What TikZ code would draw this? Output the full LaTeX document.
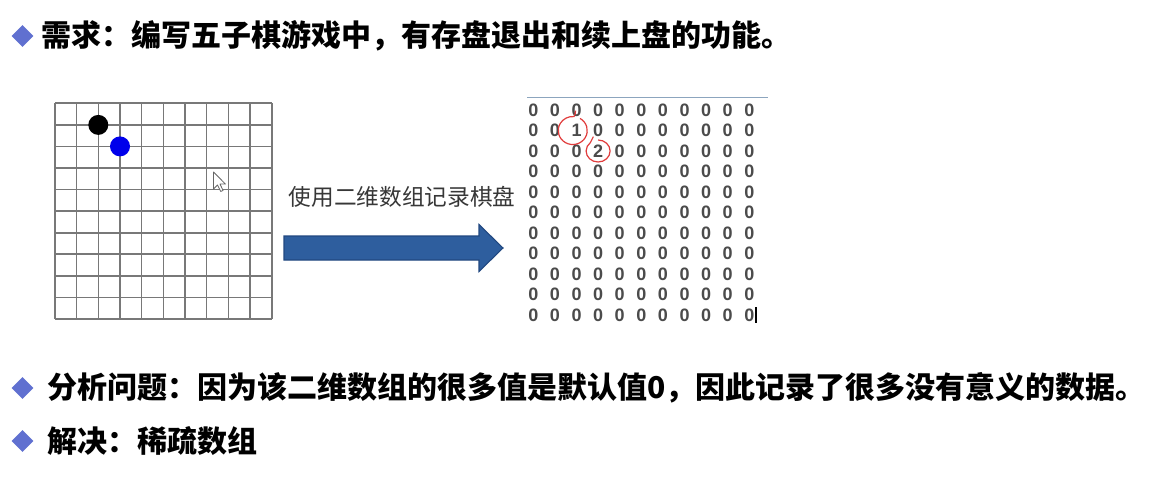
\documentclass[tikz,border=0pt]{standalone}
\usepackage{fontspec}
\setmainfont{Liberation Sans}
\newfontfamily\cjk{Noto Sans CJK SC}
\usetikzlibrary{shapes.geometric}
\definecolor{bulletcol}{RGB}{96,112,208}
\definecolor{gridgray}{RGB}{120,120,120}
\definecolor{arrowblue}{RGB}{46,94,158}
\definecolor{arrowedge}{RGB}{33,72,128}
\definecolor{digitcol}{RGB}{75,75,75}
\definecolor{rulecol}{RGB}{140,165,190}
\definecolor{markred}{RGB}{225,60,60}
\definecolor{stoneblue}{RGB}{0,0,235}
\definecolor{labelgray}{RGB}{55,55,55}
\begin{document}
\begin{tikzpicture}[x=0.75pt,y=-0.75pt,
  bul/.style={diamond, fill=bulletcol, inner sep=0pt, minimum size=16.5pt},
  headtext/.style={anchor=west, inner sep=0pt, text=black, font=\cjk\bfseries\fontsize{22.5pt}{27pt}\selectfont},
  gridline/.style={draw=gridgray, line width=1.2pt},
  stone/.style={circle, inner sep=0pt, minimum size=15pt},
  dig/.style={inner sep=0pt, text=digitcol, font=\bfseries\fontsize{13.5pt}{16pt}\selectfont},
  redmark/.style={draw=markred, line width=0.9pt},
  bigarrow/.style={fill=arrowblue, draw=arrowedge, line width=0.8pt},
  arrowlabel/.style={inner sep=0pt, text=labelgray, font=\cjk\fontsize{17pt}{20pt}\selectfont}]
\useasboundingbox[fill=white] (0,0) rectangle (1160,481);

% header and bullets
\node[bul] (b1) at (22.5,36) {};
\node[headtext] (t1) at (41,36) {需求：编写五子棋游戏中，有存盘退出和续上盘的功能。};
\node[bul] (b2) at (22.5,388) {};
\node[headtext] (t2) at (47,388) {分析问题：因为该二维数组的很多值是默认值0，因此记录了很多没有意义的数据。};
\node[bul] (b3) at (22.5,441) {};
\node[headtext] (t3) at (47,441) {解决：稀疏数组};

% board grid
\foreach \i in {0,...,10}{
  \draw[gridline] ({55+\i*21.67},103.3) -- ({55+\i*21.67},319);
  \draw[gridline] (55,{103.3+\i*21.57}) -- (271.7,{103.3+\i*21.57});
}
\node[stone, fill=black] (blackstone) at (98.3,124.9) {};
\node[stone, fill=stoneblue] (bluestone) at (120,146.4) {};

% mouse pointer
\draw[fill=white, draw=gray!80!black, line width=0.6pt, line join=round]
  (213.5,172) -- ++(0,17) -- ++(4,-4) -- ++(3.2,6.5) -- ++(2.4,-1.1) -- ++(-3.1,-6.3) -- ++(5.5,0) -- cycle;

% arrow with label
\node[arrowlabel] (lbl) at (402,197) {使用二维数组记录棋盘};
\draw[bigarrow] (284,236) -- (479,236) -- (479,224.5) -- (503,248) -- (479,271.5) -- (479,260) -- (284,260) -- cycle;

% matrix
\draw[rulecol, line width=1.3pt] (527,97.5) -- (768,97.5);
\foreach \r in {0,...,10}{
  \foreach \c in {0,...,10}{
    \pgfmathtruncatemacro\v{((\r==1)&&(\c==2)) ? 1 : (((\r==2)&&(\c==3)) ? 2 : 0)}
    \node[dig] (m\r-\c) at ({533.3+\c*21.6},{110+\r*20.5}) {\v};
  }
}
\draw[redmark] ([shift={(3.5,-12.1)}]m1-2.center) arc[start angle=-60, delta angle=335, x radius=14.5, y radius=14]
   .. controls +(1,-2) and +(0,3) .. ++(1.5,-6);
\draw[redmark] ([shift={(0,-11)}]m2-3.center) arc[start angle=-90, delta angle=320, x radius=12, y radius=11]
   .. controls +(1,-2) and +(-1,2) .. ++(3,-6);
\draw[black, line width=0.8pt] (756,307) -- (756,323);
\end{tikzpicture}
\end{document}
